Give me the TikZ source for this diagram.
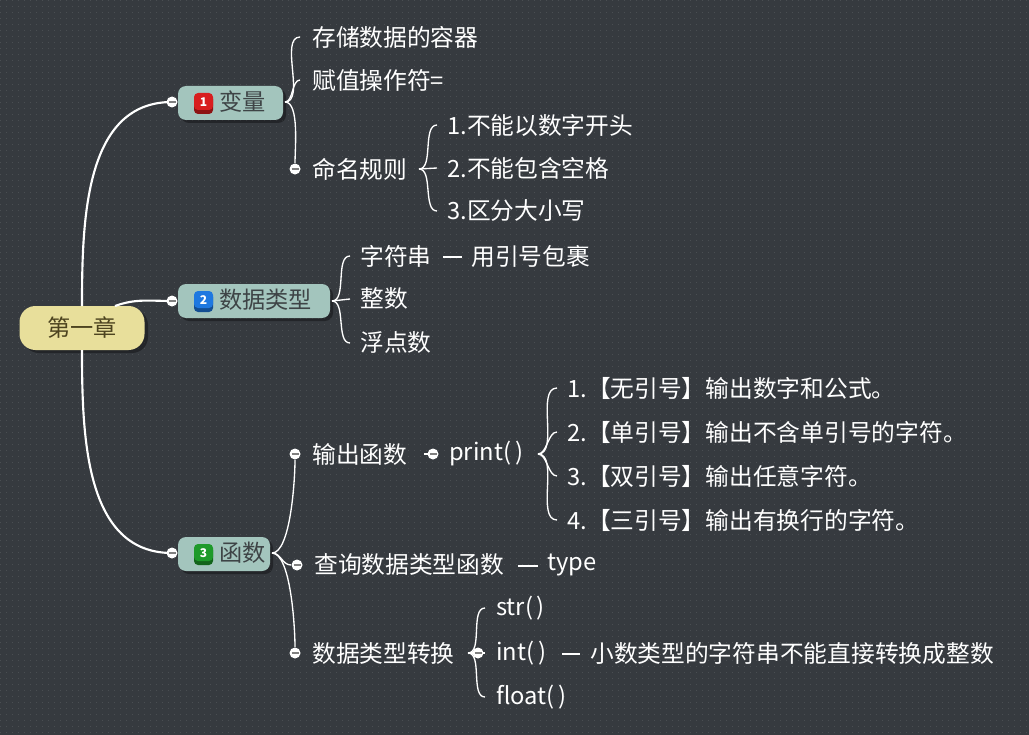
\documentclass[tikz,border=0pt]{standalone}
\usepackage{fontspec}
\setmainfont{Noto Sans CJK SC}
\begin{document}
\begin{tikzpicture}[x=0.75pt,y=-0.75pt,
  txt/.style={anchor=west,inner sep=0pt,text=white,font=\fontsize{17.8}{19}\selectfont},
  mainbox/.style={draw=none,fill=topicc,rounded corners=6pt,minimum height=25.5pt,inner sep=0pt},
  maintxt/.style={anchor=west,inner sep=0pt,text=textc,font=\fontsize{17.4}{19}\selectfont},
  conn/.style={draw=white,line width=1pt},
  thick conn/.style={draw=white,line width=1.6pt},
  bnum/.style={text=white,font=\bfseries\itshape\fontsize{9}{9}\selectfont,inner sep=0},
  br/.style={out=0,in=180,looseness=0.8}]
\definecolor{bgc}{HTML}{363A3F}
\definecolor{topicc}{HTML}{A3C5BD}
\definecolor{rootc}{HTML}{E8DF9B}
\definecolor{textc}{HTML}{3E4446}
\definecolor{roott}{HTML}{4D4420}
\definecolor{badgered}{HTML}{D81E1E}
\definecolor{badgeblue}{HTML}{1E78E0}
\definecolor{badgegreen}{HTML}{1E9A2A}
\fill[bgc] (0,0) rectangle (1029,735);
\useasboundingbox (0,0) rectangle (1029,735);
\foreach \i in {0,6,...,1029}{\draw[bgc!90!white,line width=0.5pt,dash pattern=on 0.75pt off 3.75pt] (\i,0) -- (\i,735);}
\newcommand{\collapse}[2]{\fill[white] (#1,#2) circle (5.5);\draw[gray,line width=0.8pt] (#1-3.5,#2) -- (#1+3.5,#2);}
% shadows
\fill[black,opacity=0.35,rounded corners=12pt] (23,309) rectangle (148,353);
\fill[black,opacity=0.35,rounded corners=6pt] (181,89) rectangle (286,123);
\fill[black,opacity=0.35,rounded corners=6pt] (181,287) rectangle (333,321);
\fill[black,opacity=0.35,rounded corners=6pt] (181,540) rectangle (273,574);
% root
\node[fill=rootc,rounded corners=12pt,minimum width=93.75pt,minimum height=33pt,inner sep=0,text=roott,font=\fontsize{17.4}{19}\selectfont] (root) at (82,328) {第一章};
% main topics
\node[mainbox,minimum width=78.75pt] (bl) at (230.5,103) {};
\node[mainbox,minimum width=114pt] (sj) at (254,301) {};
\node[mainbox,minimum width=69pt] (hs) at (224,554) {};
\node[maintxt] (blt) at (219,102) {变量};
\node[maintxt] (sjt) at (219,300) {数据类型};
\node[maintxt] (hst) at (219,553) {函数};
\fill[badgered!65!black,rounded corners=3pt] (194,95) rectangle (213,114);
\fill[badgered,rounded corners=3pt] (194,93) rectangle (213,110);
\node[bnum] (b1) at (203.5,102) {1};
\fill[badgeblue!65!black,rounded corners=3pt] (194,293) rectangle (213,312);
\fill[badgeblue,rounded corners=3pt] (194,291) rectangle (213,308);
\node[bnum] (b2) at (203.5,300) {2};
\fill[badgegreen!65!black,rounded corners=3pt] (194,546) rectangle (213,565);
\fill[badgegreen,rounded corners=3pt] (194,544) rectangle (213,561);
\node[bnum] (b3) at (203.5,553) {3};
% root connectors
\coordinate (r1) at (172,102);
\coordinate (r2) at (172,301);
\coordinate (r3) at (172,553);
\draw[thick conn] (82,306) to[out=90,in=180] (r1);
\draw[thick conn] (115,306) to[out=20,in=180] (r2);
\draw[thick conn] (82,350) to[out=-90,in=180] (r3);
\collapse{172}{102}\collapse{172}{301}\collapse{172}{553}
% 变量 children
\coordinate (v0) at (285,102);
\node[txt] (v1) at (312,37) {存储数据的容器};
\node[txt] (v2) at (312,80) {赋值操作符=};
\node[txt] (v3) at (312,169) {命名规则};
\draw[conn] (v0) to[br] (300,37);
\draw[conn] (v0) to[br] (300,80);
\draw[conn] (v0) to[out=0,in=90,looseness=0.6] (295,163);
\collapse{295}{169}
\coordinate (m0) at (419,169);
\node[txt] (m1) at (447,125) {1.不能以数字开头};
\node[txt] (m2) at (447,168) {2.不能包含空格};
\node[txt] (m3) at (447,211) {3.区分大小写};
\draw[conn] (m0) to[br] (437,125);
\draw[conn] (m0) -- (437,168);
\draw[conn] (m0) to[br] (437,211);
% 数据类型 children
\coordinate (s0) at (332,301);
\node[txt] (s1) at (360,256) {字符串};
\node[txt] (s2) at (360,299) {整数};
\node[txt] (s3) at (360,343) {浮点数};
\draw[conn] (s0) to[br] (350,256);
\draw[conn] (s0) -- (350,299);
\draw[conn] (s0) to[br] (350,343);
\node[txt] (s1b) at (471,256) {用引号包裹};
\draw[conn] (443,257) -- (462,257);
% 函数 children
\coordinate (h0) at (272,553);
\node[txt] (h1) at (312,454) {输出函数};
\node[txt] (h2) at (314,565) {查询数据类型函数};
\node[txt] (h3) at (312,653) {数据类型转换};
\draw[conn] (h0) to[out=0,in=-90,looseness=0.5] (295,460);
\draw[conn] (h0) to[out=0,in=180] (291,565);
\draw[conn] (h0) to[out=0,in=90,looseness=0.5] (295,647);
\collapse{295}{454}\collapse{297}{565}\collapse{295}{653}
\node[txt] (pr) at (449,454) {print(\,)};
\draw[conn] (424,454) -- (433,454);
\collapse{433}{454}
\coordinate (p0) at (538,454);
\node[txt] (p1) at (567,388) {1.【无引号】输出数字和公式。};
\node[txt] (p2) at (567,432) {2.【单引号】输出不含单引号的字符。};
\node[txt] (p3) at (567,476) {3.【双引号】输出任意字符。};
\node[txt] (p4) at (567,520) {4.【三引号】输出有换行的字符。};
\draw[conn] (p0) to[br] (557,388);
\draw[conn] (p0) to[br] (557,432);
\draw[conn] (p0) to[br] (557,476);
\draw[conn] (p0) to[br] (557,520);
\node[txt] (ty) at (547,565) {type};
\draw[conn] (518,566) -- (538,566);
\coordinate (c0) at (468,653);
\node[txt] (c1) at (496,608) {str(\,)};
\node[txt] (c2) at (496,653) {int(\,)};
\node[txt] (c3) at (496,697) {float(\,)};
\draw[conn] (c0) to[br] (485,608);
\draw[conn] (c0) -- (485,653);
\draw[conn] (c0) to[br] (485,697);
\collapse{478}{653}
\draw[conn] (562,654) -- (580,654);
\node[txt] (c2b) at (590,653) {小数类型的字符串不能直接转换成整数};
\end{tikzpicture}
\end{document}
